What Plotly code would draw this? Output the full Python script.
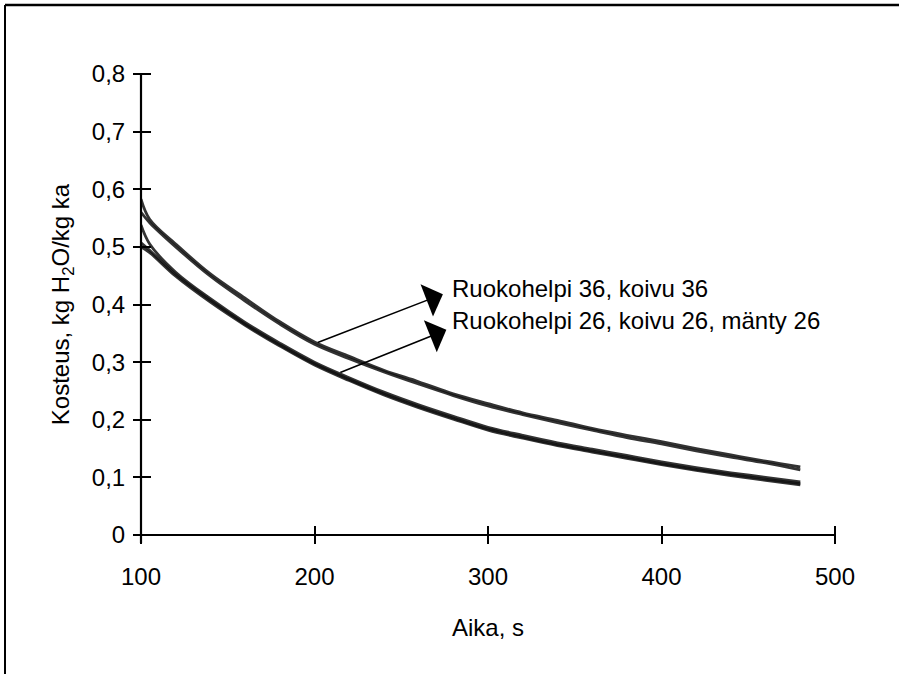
import plotly.graph_objects as go

# ---- data ----
time_s = [100, 105, 120, 140, 160, 180, 200, 220, 240, 260, 280, 300,
          320, 340, 360, 380, 400, 420, 440, 460, 480]

ruokohelpi_36 = [0.583, 0.548, 0.505, 0.453, 0.411, 0.370, 0.335, 0.310, 0.286, 0.266, 0.245, 0.228,
                 0.212, 0.199, 0.185, 0.173, 0.162, 0.150, 0.139, 0.128, 0.118]
koivu_36 = [0.560, 0.542, 0.500, 0.449, 0.406, 0.366, 0.331, 0.306, 0.283, 0.262, 0.242, 0.224,
            0.209, 0.195, 0.182, 0.169, 0.158, 0.146, 0.135, 0.125, 0.113]

ruokohelpi_26 = [0.538, 0.505, 0.456, 0.410, 0.369, 0.333, 0.300, 0.273, 0.248, 0.226, 0.206, 0.187,
                 0.173, 0.160, 0.149, 0.138, 0.127, 0.117, 0.108, 0.100, 0.092]
koivu_26 = [0.507, 0.494, 0.452, 0.407, 0.366, 0.330, 0.297, 0.270, 0.245, 0.223, 0.203, 0.184,
            0.170, 0.157, 0.146, 0.135, 0.124, 0.114, 0.105, 0.097, 0.089]
manty_26 = [0.500, 0.490, 0.449, 0.404, 0.364, 0.328, 0.295, 0.268, 0.243, 0.221, 0.201, 0.182,
            0.168, 0.155, 0.144, 0.133, 0.122, 0.112, 0.103, 0.095, 0.087]

label_36 = "Ruokohelpi 36, koivu 36"
label_26 = "Ruokohelpi 26, koivu 26, mänty 26"
x_title = "Aika, s"
y_title = "Kosteus, kg H<sub>2</sub>O/kg ka"
x_ticks = [100, 200, 300, 400, 500]
y_ticks = [0, 0.1, 0.2, 0.3, 0.4, 0.5, 0.6, 0.7, 0.8]
y_ticktext = ["0", "0,1", "0,2", "0,3", "0,4", "0,5", "0,6", "0,7", "0,8"]

# ---- figure ----
W, H = 899, 674
ML, MR, MT, MB = 141, 64, 74, 139
FONT = "Liberation Sans, Arial, sans-serif"
pw, ph = W - ML - MR, H - MT - MB
TICK_IN, TICK_OUT = 10, 8   # ticks cross the axis line

fig = go.Figure()
series = [("Ruokohelpi 36", ruokohelpi_36), ("koivu 36", koivu_36),
          ("Ruokohelpi 26", ruokohelpi_26), ("koivu 26", koivu_26), ("mänty 26", manty_26)]
for name, vals in series:
    fig.add_trace(go.Scatter(x=time_s, y=vals, mode="lines", name=name,
                             line=dict(color="rgba(15,15,15,0.85)", width=2.8, shape="spline"),
                             showlegend=False))

axis_common = dict(showgrid=False, zeroline=False, showline=False, anchor="free",
                   ticks="outside", ticklen=TICK_IN + TICK_OUT, tickwidth=2, tickcolor="black",
                   tickfont=dict(family=FONT, size=24, color="black"))

fig.update_layout(
    width=W, height=H,
    margin=dict(l=ML, r=MR, t=MT, b=MB),
    paper_bgcolor="white", plot_bgcolor="white",
    font=dict(family=FONT, size=24, color="black"),
    xaxis=dict(range=[100, 500], tickvals=x_ticks, ticklabelstandoff=12,
               position=TICK_IN / ph,
               title=dict(text=x_title, font=dict(family=FONT, size=24), standoff=30),
               **axis_common),
    yaxis=dict(range=[0, 0.8], tickvals=y_ticks, ticktext=y_ticktext, ticklabelstandoff=3,
               position=TICK_IN / pw,
               title=dict(text=y_title, font=dict(family=FONT, size=24), standoff=14),
               **axis_common),
)

# axis lines
fig.add_shape(type="line", xref="paper", yref="paper", x0=0, x1=1, y0=0, y1=0,
              line=dict(color="black", width=2.2))
fig.add_shape(type="line", xref="paper", yref="paper", x0=0, x1=0, y0=-TICK_OUT / ph, y1=1,
              line=dict(color="black", width=2.2))

# arrows (tail on the curve, head pointing at the labels)
for (hx, hy, tx, ty) in [(274, 0.418, 201, 0.333), (276, 0.356, 214, 0.281)]:
    fig.add_annotation(x=hx, y=hy, ax=tx, ay=ty, xref="x", yref="y", axref="x", ayref="y",
                       text="", showarrow=True, arrowhead=1, arrowsize=3.6, arrowwidth=1.6,
                       arrowcolor="black", standoff=0)
fig.add_annotation(x=278, y=0.427, xref="x", yref="y", text=label_36, showarrow=False,
                   xanchor="left", yanchor="middle", font=dict(family=FONT, size=24))
fig.add_annotation(x=278, y=0.373, xref="x", yref="y", text=label_26, showarrow=False,
                   xanchor="left", yanchor="middle", font=dict(family=FONT, size=24))

# outer frame (top and left edges of the scanned box)
def px_to_paper_x(px):
    return (px - ML) / pw
def py_to_paper_y(py):
    return (H - MB - py) / ph
fig.add_shape(type="line", xref="paper", yref="paper",
              x0=px_to_paper_x(5), x1=px_to_paper_x(W), y0=py_to_paper_y(5), y1=py_to_paper_y(5),
              line=dict(color="black", width=2.5))
fig.add_shape(type="line", xref="paper", yref="paper",
              x0=px_to_paper_x(5), x1=px_to_paper_x(5), y0=py_to_paper_y(5), y1=py_to_paper_y(H),
              line=dict(color="black", width=2))

fig.write_html("out.html")
